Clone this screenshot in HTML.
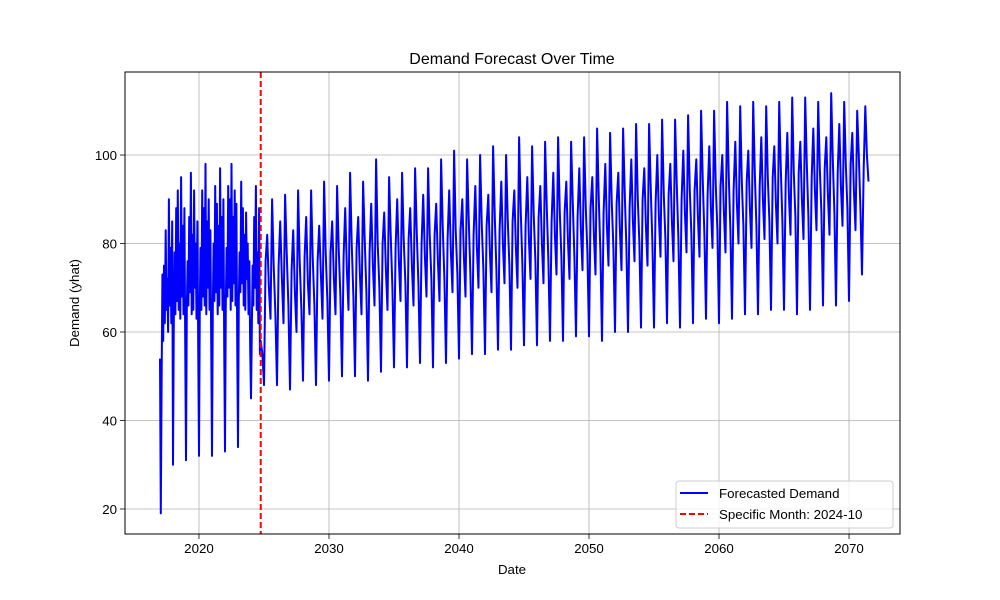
<!DOCTYPE html>
<html><head><meta charset="utf-8"><style>
html,body{margin:0;padding:0;background:#fff}
svg{display:block;font-family:"Liberation Sans","DejaVu Sans",sans-serif}
</style></head><body>
<svg id="chart" width="1000" height="600" viewBox="0 0 1000 600">
<rect width="1000" height="600" fill="#fff"/>
<g id="grid"></g>
<g id="series"></g>
<rect x="125" y="72" width="775" height="462" fill="none" stroke="#000" stroke-width="1"/>
<g id="ticks"></g>
<text x="512" y="64" text-anchor="middle" font-size="16">Demand Forecast Over Time</text>
<text x="512" y="574" text-anchor="middle" font-size="13.3">Date</text>
<text x="0" y="0" transform="translate(79,303) rotate(-90)" text-anchor="middle" font-size="13.3">Demand (yhat)</text>
<g>
<rect x="676" y="481" width="217" height="47" rx="3" fill="#fff" fill-opacity="0.8" stroke="#ccc"/>
<line x1="680" y1="493" x2="708" y2="493" stroke="#0000ff" stroke-width="2"/>
<text x="719" y="498" font-size="13.3">Forecasted Demand</text>
<line x1="680" y1="514" x2="708" y2="514" stroke="#ff0000" stroke-width="2" stroke-dasharray="6,3"/>
<text x="719" y="519" font-size="13.3">Specific Month: 2024-10</text>
</g>
</svg>
<script>
const xTicks=[2020,2030,2040,2050,2060,2070];
const yTicks=[20,40,60,80,100];
const markerDate=2024.75;
const histStart=2017.0, histStep=1/16;
const histValues=[
54,19,48,73,58,75,62,83,65,72,60,90,66,79,62,85,
30,62,78,64,88,67,92,65,80,63,95,68,84,64,88,58,
31,65,76,66,86,69,96,64,82,65,92,70,80,63,85,57,
32,66,79,65,92,68,88,66,98,64,85,70,90,65,83,58,
32,65,80,67,93,69,89,64,84,66,97,70,86,65,90,57,
33,66,79,68,93,70,90,65,98,67,86,71,92,66,89,58,
34,67,78,69,94,71,88,66,82,65,87,72,80,64,76,56,
45,60,75,66,86,70,93,65,78,62,88,55];
const fcStart=2024.75, fcStep=1/8;
const fcValues=[
58,55,
48,76,82,70,63,90,75,64,
48,75,85,72,62,91,78,66,
47,74,83,69,60,92,76,65,
49,77,86,71,64,92,77,66,
48,76,84,73,63,94,78,67,
49,78,85,72,64,93,79,68,
50,77,88,74,65,96,80,68,
50,79,86,73,64,94,81,69,
49,78,89,75,66,99,80,70,
51,80,87,74,65,95,82,70,
52,79,90,76,67,96,81,71,
52,81,88,75,66,97,83,71,
53,80,91,77,68,97,82,72,
52,82,89,76,67,99,84,72,
53,81,92,78,69,101,83,73,
54,83,90,77,68,99,85,73,
55,82,93,79,70,100,84,74,
55,84,91,78,69,102,86,74,
56,83,94,80,71,100,85,75,
56,85,92,79,70,104,87,75,
57,84,95,81,72,102,86,76,
57,86,93,80,71,103,88,76,
58,85,96,82,73,104,87,77,
58,87,94,81,72,103,89,77,
59,86,97,83,74,104,88,78,
59,88,95,82,73,106,90,78,
58,87,98,84,75,105,89,79,
60,89,96,83,74,106,91,79,
60,88,99,85,76,107,90,80,
61,90,97,84,75,107,92,80,
61,89,100,86,77,108,91,81,
62,91,98,85,76,108,93,81,
61,90,101,87,78,109,92,82,
62,92,99,86,77,110,94,82,
63,91,102,88,79,110,93,83,
62,93,100,87,78,112,95,83,
63,92,103,89,80,111,94,84,
64,94,101,88,79,112,96,84,
64,93,104,90,81,111,95,85,
65,95,102,89,80,112,97,85,
65,94,105,91,82,113,96,86,
64,96,103,90,81,113,98,86,
65,95,106,92,83,112,97,87,
66,97,104,91,82,114,99,87,
66,96,107,93,84,112,98,88,
67,98,105,92,83,110,100,88,
73,97,111,100,94];

const L=125,R=900,T=72,B=534;
const xMin=2014.31,xMax=2073.92,yMin=14.35,yMax=118.76;
const xs=v=>L+(v-xMin)/(xMax-xMin)*(R-L);
const ys=v=>B-(v-yMin)/(yMax-yMin)*(B-T);
const NS='http://www.w3.org/2000/svg';
const grid=document.getElementById('grid'),ticks=document.getElementById('ticks'),series=document.getElementById('series');
function mk(tag,attrs,parent){const e=document.createElementNS(NS,tag);for(const k in attrs)e.setAttribute(k,attrs[k]);parent.appendChild(e);return e;}
xTicks.forEach(t=>{const x=xs(t);
const g=mk('line',{x1:x,x2:x,y1:T,y2:B,stroke:'#b0b0b0','stroke-width':0.8},grid);


const tk=mk('line',{x1:x,x2:x,y1:B,y2:B+5,stroke:'#000','stroke-width':0.8},ticks);


const lb=mk('text',{x:x,y:B+19,'text-anchor':'middle','font-size':13.3},ticks);lb.textContent=t;


});
yTicks.forEach(t=>{const y=ys(t);
const g=mk('line',{x1:L,x2:R,y1:y,y2:y,stroke:'#b0b0b0','stroke-width':0.8},grid);


const tk=mk('line',{x1:L-5,x2:L,y1:y,y2:y,stroke:'#000','stroke-width':0.8},ticks);


const lb=mk('text',{x:L-8,y:y+5,'text-anchor':'end','font-size':13.3},ticks);lb.textContent=t;


});
const pts=[];
histValues.forEach((v,i)=>pts.push([xs(histStart+i*histStep),ys(v)]));
fcValues.forEach((v,i)=>pts.push([xs(fcStart+i*fcStep),ys(v)]));
const line=mk('polyline',{points:pts.map(p=>p[0].toFixed(1)+','+p[1].toFixed(1)).join(' '),fill:'none',stroke:'#0000ff','stroke-width':2,'stroke-linejoin':'round'},series);


const mx=xs(markerDate);
const ml=mk('line',{x1:mx,x2:mx,y1:T,y2:B,stroke:'#ff0000','stroke-width':2,'stroke-dasharray':'6,3'},series);


</script>
</body></html>
